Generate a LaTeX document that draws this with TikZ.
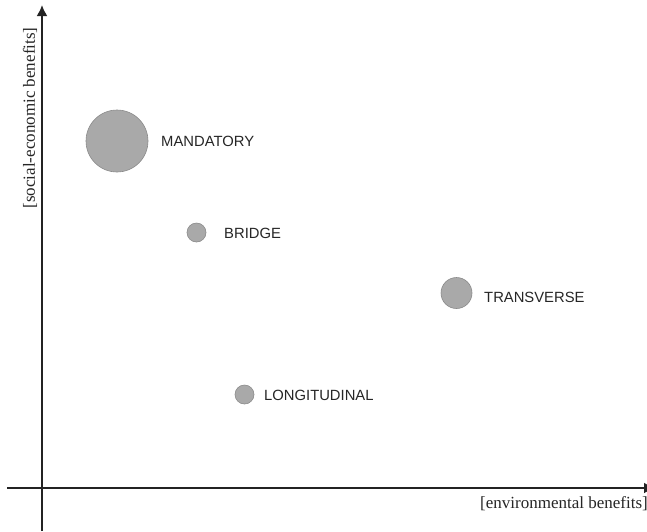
\documentclass[tikz,border=0pt]{standalone}
\usepackage{fontspec}
\setmainfont{Liberation Serif}
\newfontfamily\labelfont{Liberation Sans}
\usetikzlibrary{arrows.meta}
\definecolor{dotfill}{HTML}{A9A9A9}
\definecolor{dotedge}{HTML}{8A8A8A}
\definecolor{labtext}{HTML}{262626}
\tikzset{
  axisline/.style={line width=2pt, draw={rgb,255:red,35;green,35;blue,35}},
  bubble/.style={circle, fill=dotfill, draw=dotedge, line width=0.6pt, inner sep=0pt},
  bubblelabel/.style={anchor=west, inner sep=0pt, font=\labelfont\fontsize{14.8}{16}\selectfont, text=labtext},
  axislabel/.style={inner sep=0pt, font=\fontsize{17}{19}\selectfont, text=labtext}
}
\begin{document}
\begin{tikzpicture}[x=1pt,y=-1pt]
\useasboundingbox (0,0) rectangle (647,531);
\clip (0,0) rectangle (647,531);
\fill[white] (0,0) rectangle (647,531);
% axes
\coordinate (xs) at (7,488);
\coordinate (xe) at (655,488);
\coordinate (ys) at (42,531);
\coordinate (ye) at (42,5);
\draw[axisline, -{Latex[length=11pt,width=11pt]}] (xs) -- (xe);
\draw[axisline, -{Latex[length=11pt,width=11pt]}] (ys) -- (ye);
\node[axislabel, anchor=west] (xl) at (480,504) {[environmental benefits]};
\node[axislabel, rotate=90] (yl) at (30,118) {[social-economic benefits]};
% bubbles
\node[bubble, minimum size=62pt] (mand) at (117,141) {};
\node[bubble, minimum size=19pt] (brid) at (196.5,232.5) {};
\node[bubble, minimum size=31pt] (tran) at (456.5,293) {};
\node[bubble, minimum size=19pt] (long) at (244.5,394.5) {};
\node[bubblelabel] (mandl) at (161,141.5) {MANDATORY};
\node[bubblelabel] (bridl) at (224,233) {BRIDGE};
\node[bubblelabel] (tranl) at (484,297) {TRANSVERSE};
\node[bubblelabel] (longl) at (264,395.5) {LONGITUDINAL};
\end{tikzpicture}
\end{document}
